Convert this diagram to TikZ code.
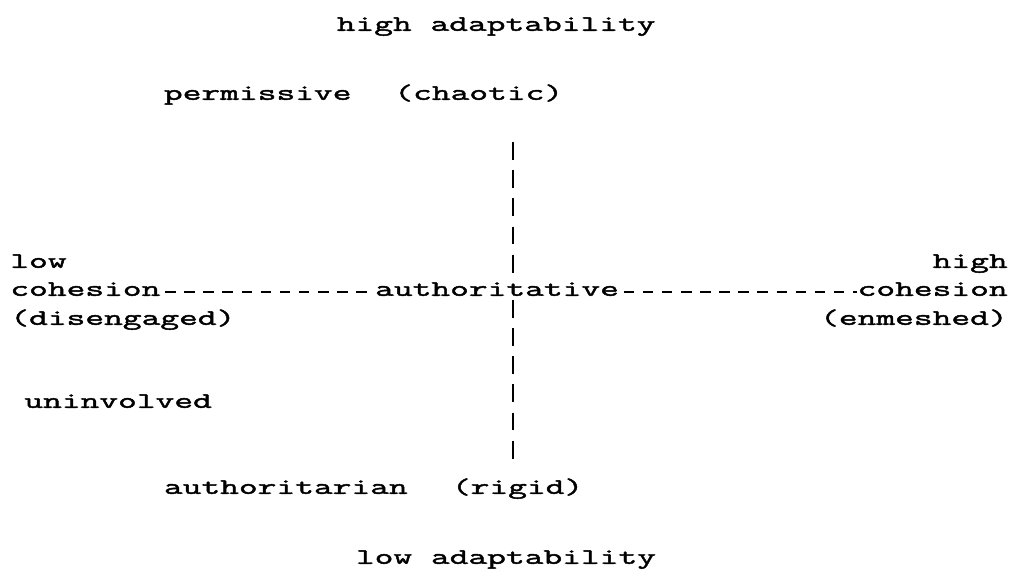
\documentclass[tikz,border=0pt]{standalone}
\usepackage{fontspec}
\newfontfamily\typer[FakeStretch=1.65,FakeBold=2]{Latin Modern Mono}
\tikzset{
  lbl/.style={inner sep=0pt, anchor=mid west, font=\fontsize{12.56}{14}\selectfont\typer},
  hdash/.style={line width=1.6pt, dash pattern=on 6pt off 4.88pt, dash phase=8.4pt},
  vdash/.style={line width=1.6pt, dash pattern=on 10.2pt off 5.84pt}
}
\begin{document}
\begin{tikzpicture}[x=0.02cm,y=-0.02cm]
\useasboundingbox (0,0) rectangle (1018,581);
% one typewriter column = 19.2, one line = 28.3
\node[lbl] (hiadapt) at (336.4,27) {high adaptability};
\node[lbl] (permissive) at (163.6,96) {permissive};
\node[lbl] (chaotic) at (394,96) {(chaotic)};
\node[lbl] (low) at (10,264) {low};
\node[lbl] (locoh) at (10,292) {cohesion};
\node[lbl] (diseng) at (10,321) {(disengaged)};
\node[lbl] (auth) at (374.8,292) {authoritative};
\node[lbl, anchor=mid east] (high) at (1008,264) {high};
\node[lbl, anchor=mid east] (hicoh) at (1008,292) {cohesion};
\node[lbl, anchor=mid east] (enmeshed) at (1008,321) {(enmeshed)};
\node[lbl] (uninvolved) at (24,404) {uninvolved};
\node[lbl] (authoritarian) at (163.6,490) {authoritarian};
\node[lbl] (rigid) at (451.6,490) {(rigid)};
\node[lbl] (loadapt) at (355.6,560) {low adaptability};
\coordinate (vtop) at (513,142);
\coordinate (vbot) at (513,468);
\draw[hdash] (locoh.mid east) -- (auth.mid west);
\draw[hdash] (auth.mid east) -- (hicoh.mid west);
\draw[vdash] (vtop) -- (vtop |- auth.north);
\draw[vdash] ([yshift=-2pt]vtop |- auth.south) -- (vbot);
\end{tikzpicture}
\end{document}
